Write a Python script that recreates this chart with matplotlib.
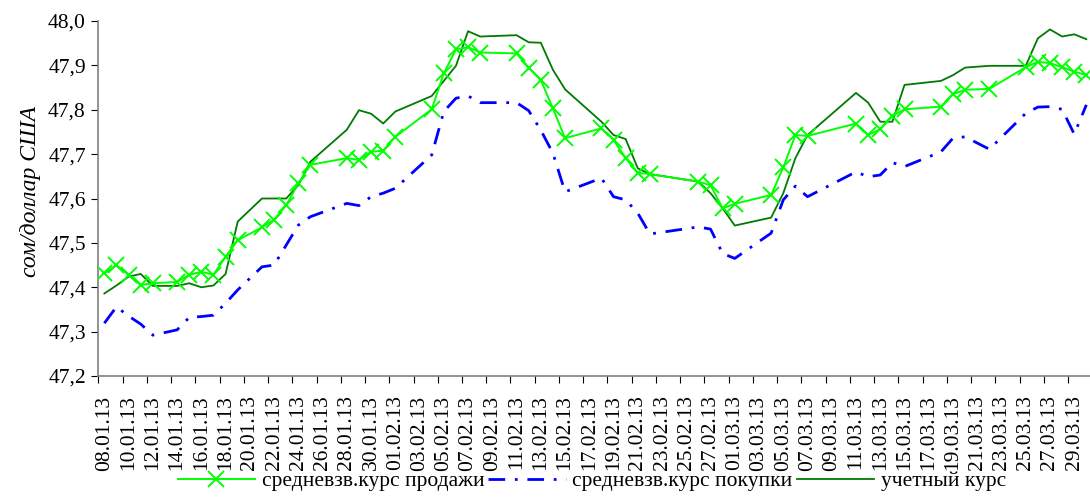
import matplotlib
matplotlib.use("Agg")
import matplotlib.pyplot as plt
import matplotlib.dates as mdates
from matplotlib.ticker import FixedLocator, FuncFormatter
import pandas as pd

dates = ["08.01.13", "09.01.13", "10.01.13", "11.01.13", "12.01.13", "14.01.13", "15.01.13",
         "16.01.13", "17.01.13", "18.01.13", "19.01.13", "21.01.13", "22.01.13", "23.01.13",
         "24.01.13", "25.01.13", "28.01.13", "29.01.13", "30.01.13", "31.01.13", "01.02.13",
         "04.02.13", "05.02.13", "06.02.13", "07.02.13", "08.02.13", "11.02.13", "12.02.13",
         "13.02.13", "14.02.13", "15.02.13", "18.02.13", "19.02.13", "20.02.13", "21.02.13",
         "22.02.13", "26.02.13", "27.02.13", "28.02.13", "01.03.13", "04.03.13", "05.03.13",
         "06.03.13", "07.03.13", "11.03.13", "12.03.13", "13.03.13", "14.03.13", "15.03.13",
         "18.03.13", "19.03.13", "20.03.13", "22.03.13", "25.03.13", "26.03.13", "27.03.13",
         "28.03.13", "29.03.13", "30.03.13"]

sell = [47.431, 47.450, 47.428, 47.405, 47.409, 47.412, 47.428, 47.435, 47.428, 47.469,
        47.506, 47.535, 47.552, 47.585, 47.634, 47.676, 47.691, 47.687, 47.705, 47.708,
        47.739, 47.801, 47.882, 47.936, 47.941, 47.929, 47.927, 47.895, 47.867, 47.803,
        47.736, 47.758, 47.732, 47.691, 47.658, 47.655, 47.638, 47.630, 47.578, 47.588,
        47.608, 47.670, 47.743, 47.741, 47.769, 47.743, 47.756, 47.786, 47.801, 47.807,
        47.835, 47.845, 47.847, 47.896, 47.908, 47.905, 47.896, 47.886, 47.878]

buy = [47.319, 47.356, 47.335, 47.317, 47.292, 47.304, 47.332, 47.334, 47.337, 47.364,
       47.394, 47.446, 47.450, 47.495, 47.540, 47.559, 47.589, 47.584, 47.604, 47.612,
       47.623, 47.698, 47.796, 47.826, 47.831, 47.816, 47.816, 47.798, 47.754, 47.702,
       47.615, 47.646, 47.604, 47.597, 47.567, 47.520, 47.536, 47.531, 47.476, 47.465,
       47.522, 47.597, 47.628, 47.604, 47.660, 47.649, 47.653, 47.681, 47.672, 47.705,
       47.736, 47.739, 47.711, 47.792, 47.806, 47.807, 47.801, 47.745, 47.811]

official = [47.386, 47.404, 47.424, 47.430, 47.403, 47.403, 47.409, 47.400, 47.404, 47.430,
            47.548, 47.600, 47.600, 47.600, 47.630, 47.683, 47.755, 47.799, 47.791, 47.769,
            47.796, 47.831, 47.865, 47.899, 47.977, 47.965, 47.968, 47.952, 47.951, 47.890,
            47.846, 47.773, 47.743, 47.734, 47.668, 47.655, 47.638, 47.612, 47.578, 47.539,
            47.557, 47.612, 47.691, 47.743, 47.838, 47.816, 47.773, 47.773, 47.856, 47.865,
            47.878, 47.895, 47.899, 47.899, 47.961, 47.981, 47.965, 47.970, 47.959]

series_names = ["средневзв.курс продажи", "средневзв.курс покупки", "учетный курс"]
y_label = "сом/доллар США"
y_ticks = [47.2, 47.3, 47.4, 47.5, 47.6, 47.7, 47.8, 47.9, 48.0]

plt.rcParams["font.family"] = ["Liberation Serif", "DejaVu Serif"]

x = mdates.date2num(pd.to_datetime(dates, format="%d.%m.%y"))
start = x[0]

fig = plt.figure(figsize=(10.9, 5.03), dpi=100)
ax = fig.add_axes([98.3 / 1090, 1 - 376 / 503, 1 - 98.3 / 1090, (376 - 21) / 503])

ax.plot(x, official, color="#007A00", lw=1.3, label=series_names[2], zorder=2)
ax.plot(x, buy, color="#0000FF", lw=2.0, linestyle=(0, (6, 3.5, 1, 3.5)),
        label=series_names[1], zorder=3)
ax.plot(x, sell, color="#00FF00", lw=1.4, marker="x", markersize=11, mew=1.4,
        label=series_names[0], zorder=4)

ax.set_ylim(47.2, 48.0)
ax.set_xlim(start - 0.5, start + 81.3)

ax.yaxis.set_major_locator(FixedLocator(y_ticks))
ax.yaxis.set_major_formatter(FuncFormatter(lambda v, p: f"{v:.1f}".replace(".", ",")))

label_days = pd.date_range(pd.to_datetime(dates[0], format="%d.%m.%y"), periods=41, freq="2D")
label_x = mdates.date2num(label_days)
ax.xaxis.set_major_locator(FixedLocator(list(label_x - 0.5)))
ax.xaxis.set_major_formatter(FuncFormatter(lambda v, p: ""))
ax.xaxis.set_minor_locator(FixedLocator(list(label_x)))
ax.set_xticklabels([d.strftime("%d.%m.%y") for d in label_days], minor=True, rotation=90)

ax.tick_params(axis="x", which="major", length=5, direction="out", color="#000000")
ax.tick_params(axis="x", which="minor", length=0, labelsize=15.5, pad=14)
ax.tick_params(axis="y", length=5, direction="out", labelsize=15.5, pad=4)

for s in ["top", "right"]:
    ax.spines[s].set_visible(False)
for s in ["left", "bottom"]:
    ax.spines[s].set_color("#808080")
    ax.spines[s].set_linewidth(1.2)

ax.set_ylabel(y_label, fontsize=17, style="italic", labelpad=6)
ax.yaxis.set_label_coords(-0.058, 0.52)

handles, labels = ax.get_legend_handles_labels()
order = [2, 1, 0]
leg = fig.legend([handles[i] for i in order], [labels[i] for i in order],
                 loc="lower center", bbox_to_anchor=(0.543, -0.015), ncol=3, frameon=False,
                 fontsize=15.5, handlelength=3.6, handletextpad=0.3, columnspacing=0.2)

fig.savefig("out.png", dpi=100)
